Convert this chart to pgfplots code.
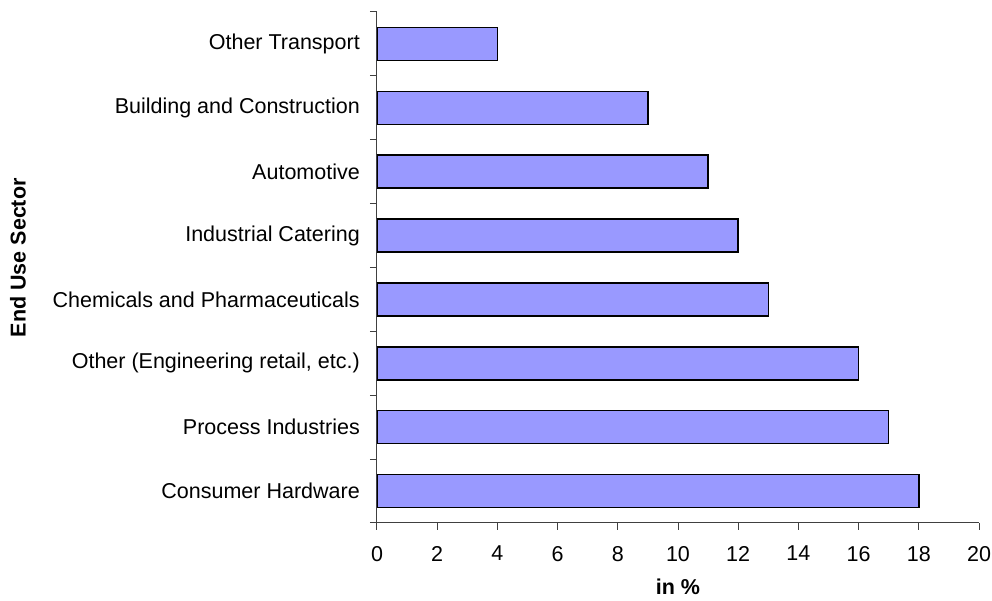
\documentclass[border=0pt]{standalone}
\usepackage{pgfplots}
\pgfplotsset{compat=1.18}
\usepackage{fontspec}
\setmainfont{Liberation Sans}
\definecolor{barfill}{RGB}{153,153,255}
\begin{document}
\begin{tikzpicture}
\path[use as bounding box] (-377pt,-78pt) rectangle (615pt,523pt);
\begin{axis}[
  at={(0pt,0pt)}, anchor=south west,
  scale only axis, width=602pt, height=511pt,
  xbar, bar width=33pt,
  xmin=0, xmax=20, ymin=-0.5, ymax=7.5,
  axis x line*=bottom, axis y line*=left,
  axis line style={-, line width=1pt, black!75},
  xtick={0,2,...,20},
  ytick={0,...,7},
  yticklabels={Consumer Hardware, Process Industries, {Other (Engineering retail, etc.)}, Chemicals and Pharmaceuticals, Industrial Catering, Automotive, Building and Construction, Other Transport},
  minor ytick={-0.5,0.5,...,7.5},
  tick align=outside,
  major tick length=7pt, minor tick length=7pt,
  major y tick style={draw=none},
  minor y tick style={line width=1pt, black!75},
  major x tick style={line width=1pt, black!75},
  ticklabel style={font=\fontsize{21.5}{25}\selectfont},
  /pgf/number format/assume math mode=true,
  yticklabel style={anchor=east, inner sep=0pt, xshift=-10pt},
  xticklabel style={anchor=north, inner sep=0pt, yshift=-16pt},
  xlabel={\textbf{in \%}},
  ylabel={\textbf{End Use Sector}},
  label style={font=\fontsize{21.5}{25}\selectfont, inner sep=0pt},
  xlabel style={at={(axis description cs:0.5,-0.125)}, anchor=center},
  ylabel style={at={(axis description cs:-0.5963,0.519)}, anchor=center},
]
\addplot[fill=barfill, draw=black, line width=1.5pt] coordinates {
  (18,0) (17,1) (16,2) (13,3) (12,4) (11,5) (9,6) (4,7)
};
\end{axis}
\end{tikzpicture}
\end{document}
